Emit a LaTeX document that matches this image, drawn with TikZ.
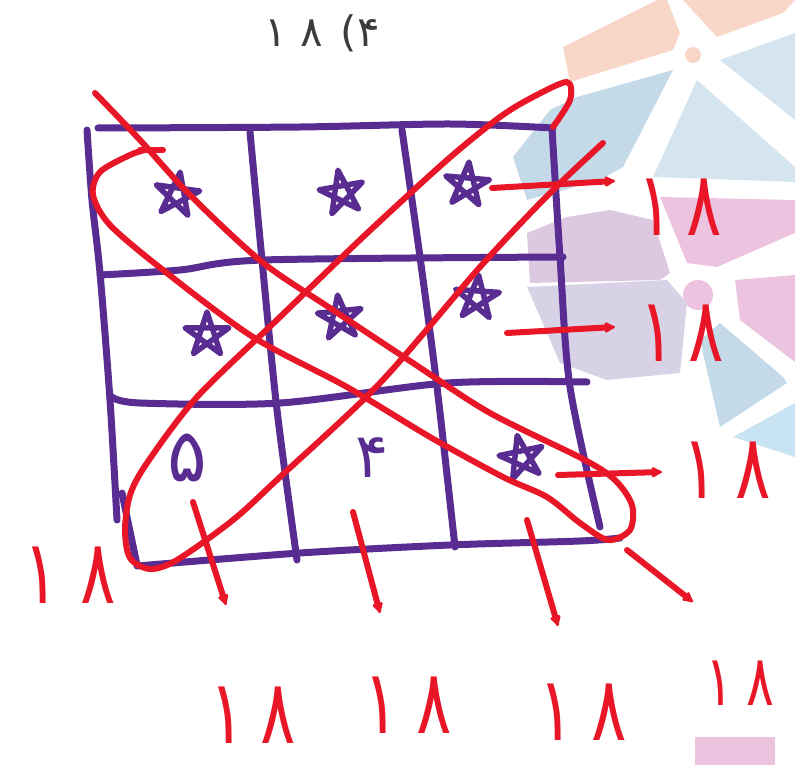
\documentclass[tikz,border=0pt]{standalone}
\usepackage{fontspec}
\usetikzlibrary{arrows.meta,shapes.geometric}
\TeXXeTstate=1
\newfontfamily\fafont{DejaVu Sans}
\newfontfamily\arabicfont[Script=Arabic]{DejaVu Sans}
\definecolor{gridpurple}{RGB}{88,44,145}
\definecolor{penred}{RGB}{232,22,38}
\definecolor{titlegray}{RGB}{60,60,60}
\definecolor{bgpeach}{RGB}{248,214,200}
\definecolor{bgsteel}{RGB}{196,218,233}
\definecolor{bgblue}{RGB}{212,229,240}
\definecolor{bglilac}{RGB}{221,200,226}
\definecolor{bgpink}{RGB}{236,196,224}
\definecolor{bglav}{RGB}{216,210,230}
\definecolor{bgsky}{RGB}{200,228,242}
\newcommand{\sumtext}[1][14pt]{\scalebox{1}[1.35]{۱\hspace{#1}۸}}

\begin{document}
\begin{tikzpicture}[
  x=1pt, y=-1pt,
  grid/.style={gridpurple, line width=7pt, line cap=round, line join=round},
  pen/.style={penred, line width=6pt, line cap=round, line join=round},
  arrow/.style={pen, -{Latex[round,length=13pt,width=13pt]}},
  handstar/.pic={\draw[gridpurple, line width=5.5pt, line cap=round, line join=round]
    (-90:23) -- (54:23) -- (198:23) -- (342:23) -- (126:23) -- cycle;},
  cellnum/.style={text=gridpurple, inner sep=0pt},
  sumlabel/.style={text=penred, inner sep=0pt, font=\fafont\fontsize{66}{66}\selectfont},
  bg/.style={line join=round}
]
\useasboundingbox (0,0) rectangle (795,765);

% faded logo in the background
\fill[bgpeach, bg] (563,47) -- (657,0) -- (667,0) -- (680,33) -- (673,50) -- (570,82) -- cycle;
\fill[bgpeach, bg] (683,0) -- (717,37) -- (783,13) -- (795,0) -- cycle;
\fill[bgpeach] (693,55) circle (8);
\fill[bgsteel, bg] (513,157) -- (550,110) -- (577,97) -- (673,70) -- (623,167) -- (600,180) -- (527,200) -- cycle;
\fill[bgblue, bg] (653,177) -- (697,80) -- (795,167) -- (795,182) -- cycle;
\fill[bgblue, bg] (720,60) -- (795,33) -- (795,120) -- cycle;
\fill[bglilac, bg] (527,233) -- (567,217) -- (610,210) -- (653,220) -- (670,273) -- (660,280) -- (530,283) -- cycle;
\fill[bgpink, bg] (660,197) -- (795,200) -- (795,233) -- (717,267) -- (687,263) -- cycle;
\fill[bgpink] (698,295) circle (15);
\fill[bglav, bg] (527,287) -- (667,280) -- (687,303) -- (680,373) -- (607,380) -- (560,363) -- cycle;
\fill[bgpink, bg] (735,280) -- (795,275) -- (795,362) -- (740,320) -- cycle;
\fill[bgsteel, bg] (700,340) -- (720,323) -- (783,377) -- (787,383) -- (720,427) -- cycle;
\fill[bgsky, bg] (733,437) -- (795,403) -- (795,457) -- cycle;
\fill[bgpink] (695,737) rectangle (775,765);

% title
\node[text=titlegray, font=\fontsize{42}{42}\selectfont] (title) at (322,33) {\arabicfont\beginR ۴)\hspace{4pt} \beginL۱\hspace{14pt}۸\endL\endR};

% the square
\draw[grid] plot[smooth] coordinates {(98,128) (300,127) (450,124) (553,128)};
\draw[grid] plot[smooth] coordinates {(87,130) (92,200) (100,273) (110,400) (117,520)};
\draw[grid] plot[smooth] coordinates {(122,493) (137,565)};
\draw[grid] plot[smooth] coordinates {(250,132) (262,260) (277,410) (297,560)};
\draw[grid] plot[smooth] coordinates {(402,130) (420,257) (437,387) (455,547)};
\draw[grid] plot[smooth] coordinates {(552,128) (560,257) (570,387) (600,527)};
\draw[grid] plot[smooth] coordinates {(100,275) (180,270) (263,260) (563,257)};
\draw[grid] plot[smooth] coordinates {(112,397) (140,403) (280,403) (447,383) (587,382)};
\draw[grid] plot[smooth] coordinates {(137,566) (300,553) (450,545) (580,541) (620,538)};

% numbers in the cells
\pic[rotate=-8] at (177,195) {handstar};
\pic[rotate=10] at (342,193) {handstar};
\pic[rotate=-5] at (467,185) {handstar};
\pic at (207,335) {handstar};
\pic[rotate=6] at (340,318) {handstar};
\pic[rotate=-4] at (477,298) {handstar};
\pic[rotate=12] at (522,458) {handstar};
\node[cellnum, font=\fafont\fontsize{74}{74}\selectfont] (n31) at (187,458) {۵};
\node[cellnum, font=\fafont\fontsize{62}{62}\selectfont] (n32) at (372,458) {۴};

% diagonals
\draw[pen] plot[smooth] coordinates {(95,93) (140,140) (190,195) (262,262) (333,310) (413,363) (490,413) (583,459) (615,480) (632,505) (630,530) (608,540) (580,523) (547,497) (503,477) (430,437) (347,387) (253,337) (163,270) (110,225) (93,195) (100,172) (130,155) (145,150)};
\draw[pen] (140,150) -- (163,150);
\draw[pen] plot[smooth] coordinates {(553,127) (570,100) (567,82) (533,97) (500,117) (447,160) (363,237) (280,317) (197,397) (147,463) (130,495) (125,530) (130,558) (150,569) (177,560) (233,520) (280,477) (380,383) (480,267) (550,193) (603,143)};

% sums
\node[sumlabel] (sum1) at (680,207) {\sumtext};
\node[sumlabel] (sum2) at (682,333) {\sumtext};
\node[sumlabel] (sum3) at (727,470) {\sumtext[18pt]};
\node[sumlabel] (sum4) at (70,575) {\sumtext[22pt]};
\node[sumlabel] (sum5) at (253,715) {\sumtext[16pt]};
\node[sumlabel] (sum6) at (408,705) {\sumtext[18pt]};
\node[sumlabel] (sum7) at (583,712) {\sumtext[18pt]};
\node[sumlabel, font=\fafont\fontsize{52}{52}\selectfont] (sum8) at (740,683) {\sumtext[14pt]};

\coordinate (r1) at (492,188);
\coordinate (r1e) at (615,181);
\coordinate (r2) at (507,333);
\coordinate (r2e) at (615,327);
\coordinate (r3) at (558,475);
\coordinate (r3e) at (662,472);
\coordinate (d1) at (627,550);
\coordinate (d1e) at (693,602);
\coordinate (c1) at (193,502);
\coordinate (c1e) at (226,605);
\coordinate (c2) at (353,512);
\coordinate (c2e) at (380,613);
\coordinate (c3) at (527,520);
\coordinate (c3e) at (558,626);
\draw[arrow] (r1) -- (r1e);
\draw[arrow] (r2) -- (r2e);
\draw[arrow] (r3) -- (r3e);
\draw[arrow] (d1) -- (d1e);
\draw[arrow] (c1) -- (c1e);
\draw[arrow] (c2) -- (c2e);
\draw[arrow] (c3) -- (c3e);
\end{tikzpicture}
\end{document}
